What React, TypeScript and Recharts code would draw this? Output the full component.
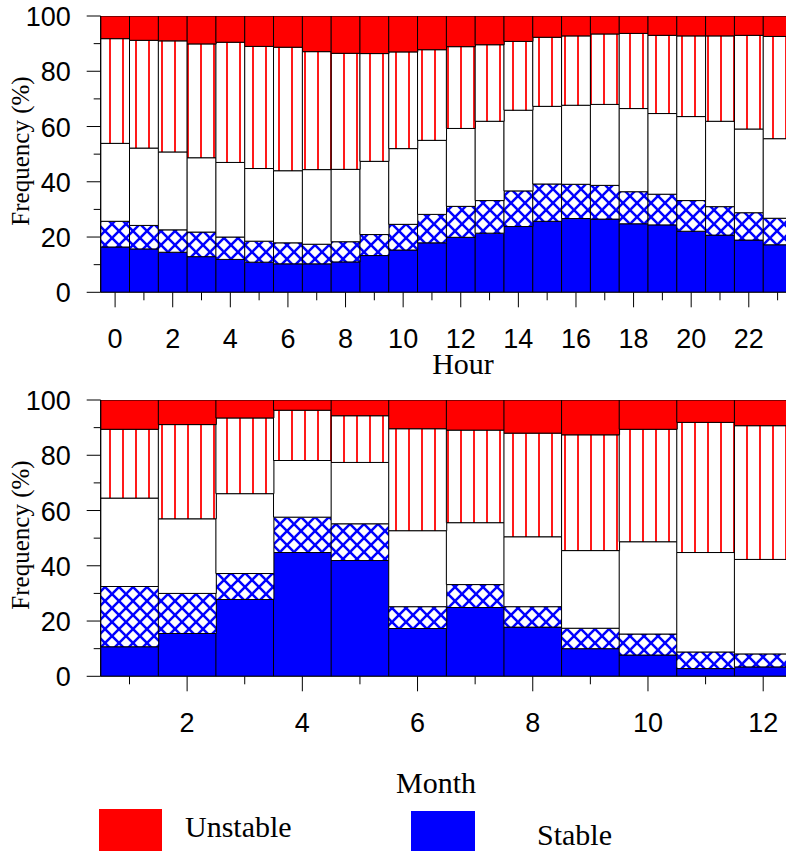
import { BarChart, Bar, XAxis, YAxis } from "recharts";

// hourly frequency (%) of each stability class, bottom of stack first
const hours = [0, 1, 2, 3, 4, 5, 6, 7, 8, 9, 10, 11, 12, 13, 14, 15, 16, 17, 18, 19, 20, 21, 22, 23];
const hourStable = [16.4, 15.7, 14.5, 12.9, 11.9, 10.9, 10.3, 10.3, 11.0, 13.3, 15.3, 17.9, 19.9, 21.4, 23.8, 25.7, 26.7, 26.5, 24.8, 24.4, 22.1, 20.7, 18.9, 17.2];
const hourSlightlyStable = [9.3, 8.5, 8.1, 8.9, 8.1, 7.6, 7.6, 7.1, 7.3, 7.6, 9.3, 10.3, 11.2, 11.8, 12.9, 13.5, 12.4, 12.2, 11.6, 11.1, 11.1, 10.3, 9.9, 9.6];
const hourNeutral = [28.2, 28.0, 28.2, 26.9, 27.0, 26.3, 26.1, 27.0, 26.2, 26.5, 27.4, 26.8, 28.2, 28.7, 29.2, 28.1, 28.6, 29.3, 30.1, 29.2, 30.4, 30.9, 30.3, 28.8];
const hourSlightlyUnstable = [37.9, 39.0, 40.2, 41.2, 43.5, 44.2, 44.7, 42.7, 42.0, 39.0, 35.0, 32.8, 29.6, 27.7, 24.9, 25.0, 25.1, 25.5, 27.2, 28.3, 29.2, 30.9, 33.9, 37.0];
const hourUnstable = [8.2, 8.8, 9.0, 10.1, 9.5, 11.0, 11.3, 12.9, 13.5, 13.6, 13.0, 12.2, 11.1, 10.4, 9.2, 7.7, 7.2, 6.5, 6.3, 7.0, 7.2, 7.2, 7.0, 7.4];

// monthly frequency (%)
const months = [1, 2, 3, 4, 5, 6, 7, 8, 9, 10, 11, 12];
const monthStable = [10.7, 15.5, 27.8, 44.8, 41.9, 17.3, 24.9, 17.8, 10.0, 7.7, 2.8, 3.4];
const monthSlightlyStable = [21.8, 14.5, 9.4, 12.8, 13.3, 7.9, 8.3, 7.4, 7.4, 7.6, 6.0, 4.7];
const monthNeutral = [32.0, 27.0, 28.9, 20.5, 22.2, 27.5, 22.4, 25.3, 28.1, 33.4, 36.0, 34.2];
const monthSlightlyUnstable = [24.9, 34.1, 27.4, 18.2, 16.9, 36.9, 33.5, 37.5, 41.9, 40.7, 47.1, 48.4];
const monthUnstable = [10.6, 8.9, 6.5, 3.7, 5.7, 10.4, 10.9, 12.0, 12.6, 10.6, 8.1, 9.3];

const yTicks = [0, 10, 20, 30, 40, 50, 60, 70, 80, 90, 100];

const hourData = hours.map((h, i) => ({
  key: h,
  stable: hourStable[i],
  slightlyStable: hourSlightlyStable[i],
  neutral: hourNeutral[i],
  slightlyUnstable: hourSlightlyUnstable[i],
  unstable: hourUnstable[i],
}));

const monthData = months.map((m, i) => ({
  key: m,
  stable: monthStable[i],
  slightlyStable: monthSlightlyStable[i],
  neutral: monthNeutral[i],
  slightlyUnstable: monthSlightlyUnstable[i],
  unstable: monthUnstable[i],
}));

const SANS = "'Liberation Sans', Arial, Helvetica, sans-serif";
const SERIF = "'Liberation Serif', 'Times New Roman', serif";

const YTick = (props: any) => {
  const { x, y, payload } = props;
  const major = payload.value % 20 === 0;
  return (
    <g>
      <line x1={x - (major ? 14 : 7)} x2={x} y1={y} y2={y} stroke="#000" />
      {major && (
        <text x={x - 30} y={y + 10} textAnchor="end" fontSize={27} fontFamily={SANS} fill="#000">
          {payload.value}
        </text>
      )}
    </g>
  );
};

const XTick = (props: any) => {
  const { x, y, payload } = props;
  const major = payload.value % 2 === 0;
  return (
    <g>
      <line x1={x} x2={x} y1={y} y2={y + (major ? 15 : 8)} stroke="#000" />
      {major && (
        <text x={x} y={y + 56} textAnchor="middle" fontSize={27} fontFamily={SANS} fill="#000">
          {payload.value}
        </text>
      )}
    </g>
  );
};

const StackChart = ({ data, id }: { data: any[]; id: string }) => (
  <BarChart
    width={800}
    height={380}
    data={data}
    margin={{ top: 16, right: 8, bottom: 0, left: 0 }}
    barCategoryGap={0}
    barGap={0}
  >
    <defs>
      <pattern id={`cross-${id}`} patternUnits="userSpaceOnUse" width={14} height={14}>
        <rect width={14} height={14} fill="#fff" />
        <line x1={0} y1={0} x2={14} y2={14} stroke="#0000ff" strokeWidth={2.5} />
        <line x1={14} y1={0} x2={0} y2={14} stroke="#0000ff" strokeWidth={2.5} />
      </pattern>
      <pattern id={`stripe-${id}`} patternUnits="userSpaceOnUse" width={13} height={10}>
        <rect width={13} height={10} fill="#fff" />
        <line x1={6} y1={0} x2={6} y2={10} stroke="#ff1a1a" strokeWidth={2} />
      </pattern>
    </defs>
    <XAxis
      dataKey="key"
      interval={0}
      height={87.7}
      tickSize={0}
      tickMargin={0}
      tick={<XTick />}
      axisLine={{ stroke: "#000" }}
    />
    <YAxis
      type="number"
      domain={[0, 100]}
      ticks={yTicks}
      interval={0}
      width={100.7}
      tickSize={0}
      tickMargin={0}
      tick={<YTick />}
      axisLine={{ stroke: "#000" }}
      allowDataOverflow
    />
    <Bar dataKey="stable" stackId="a" fill="#0000ff" stroke="#000" strokeWidth={1} isAnimationActive={false} />
    <Bar dataKey="slightlyStable" stackId="a" fill={`url(#cross-${id})`} stroke="#000" strokeWidth={1} isAnimationActive={false} />
    <Bar dataKey="neutral" stackId="a" fill="#fff" stroke="#000" strokeWidth={1} isAnimationActive={false} />
    <Bar dataKey="slightlyUnstable" stackId="a" fill={`url(#stripe-${id})`} stroke="#000" strokeWidth={1} isAnimationActive={false} />
    <Bar dataKey="unstable" stackId="a" fill="#ff0000" stroke="#000" strokeWidth={1} isAnimationActive={false} />
  </BarChart>
);

export default function App() {
  return (
    <div
      style={{
        position: "fixed",
        left: 0,
        top: 0,
        width: 786,
        height: 851,
        overflow: "hidden",
        background: "#fff",
      }}
    >
      <div style={{ position: "absolute", left: 0, top: 0 }}>
        <StackChart data={hourData} id="hour" />
      </div>
      <div style={{ position: "absolute", left: 0, top: 384 }}>
        <StackChart data={monthData} id="month" />
      </div>
      <svg width={786} height={851} style={{ position: "absolute", left: 0, top: 0, pointerEvents: "none" }}>
        <text
          transform="translate(29,151) rotate(-90)"
          textAnchor="middle"
          fontSize={25}
          fontFamily={SERIF}
          fill="#000"
        >
          Frequency (%)
        </text>
        <text
          transform="translate(29,535) rotate(-90)"
          textAnchor="middle"
          fontSize={25}
          fontFamily={SERIF}
          fill="#000"
        >
          Frequency (%)
        </text>
        <text x={463} y={374} textAnchor="middle" fontSize={30} fontFamily={SERIF} fill="#000">
          Hour
        </text>
        <text x={436} y={793} textAnchor="middle" fontSize={30} fontFamily={SERIF} fill="#000">
          Month
        </text>
        <rect x={99} y={809} width={63} height={50} fill="#ff0000" />
        <text x={185} y={837} fontSize={30} fontFamily={SERIF} fill="#000">
          Unstable
        </text>
        <rect x={411} y={811} width={64} height={50} fill="#0000ff" />
        <text x={537} y={845} fontSize={30} fontFamily={SERIF} fill="#000">
          Stable
        </text>
      </svg>
    </div>
  );
}
